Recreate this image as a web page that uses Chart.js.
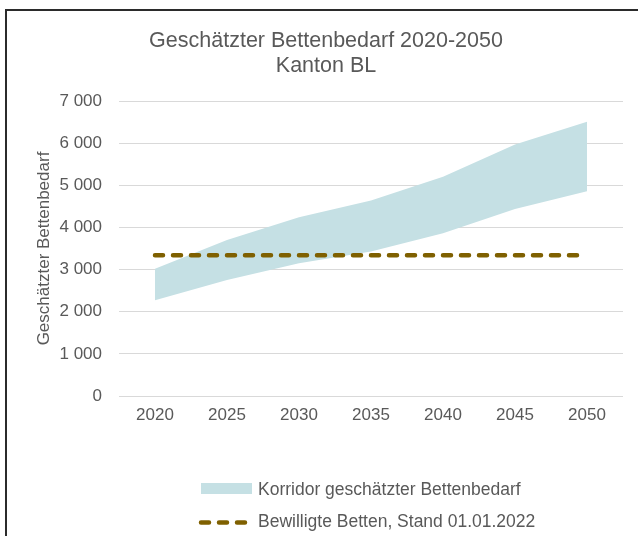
<!DOCTYPE html>
<html>
<head>
<meta charset="utf-8">
<script src="https://cdn.jsdelivr.net/npm/chart.js@4"></script>
<style>
  html, body { margin: 0; padding: 0; background: #fff; }
  #wrap { width: 638px; height: 536px; }
</style>
</head>
<body>
<div id="wrap"><canvas id="bedsChart" width="638" height="536"></canvas></div>
<script>
const years = ['2020', '2025', '2030', '2035', '2040', '2045', '2050'];
const corridorLow = [2270, 2750, 3150, 3430, 3860, 4440, 4860];
const corridorHigh = [3020, 3700, 4240, 4640, 5200, 5970, 6510];
const approvedBeds = [3340, 3340, 3340, 3340, 3340, 3340, 3340];

const titleLines = ['Geschätzter Bettenbedarf 2020-2050', 'Kanton BL'];
const yTitle = 'Geschätzter Bettenbedarf';
const legendLabels = ['Korridor geschätzter Bettenbedarf', 'Bewilligte Betten, Stand 01.01.2022'];

const textColor = '#595959';
const bandColor = '#c5e0e4';
const oliveColor = '#7f6000';
const fontFamily = '"Liberation Sans", Arial, sans-serif';

Chart.defaults.font.family = fontFamily;
Chart.defaults.color = textColor;

// frame, title and legend drawn on the canvas
const decorations = {
    id: 'decorations',
    beforeDraw(chart) {
        const ctx = chart.ctx;
        ctx.save();
        ctx.strokeStyle = '#2b2b2b';
        ctx.lineWidth = 2;
        ctx.beginPath();
        ctx.moveTo(6, 540);
        ctx.lineTo(6, 10);
        ctx.lineTo(640, 10);
        ctx.stroke();
        ctx.restore();
    },
    afterDraw(chart) {
        const ctx = chart.ctx;
        ctx.save();
        ctx.fillStyle = textColor;
        ctx.textAlign = 'center';
        ctx.textBaseline = 'alphabetic';
        ctx.font = '21.5px ' + fontFamily;
        ctx.fillText(titleLines[0], 326, 47);
        ctx.fillText(titleLines[1], 326, 72);

        // legend
        ctx.fillStyle = bandColor;
        ctx.fillRect(201, 483, 51, 11);
        ctx.strokeStyle = oliveColor;
        ctx.lineWidth = 4.5;
        ctx.lineCap = 'round';
        ctx.setLineDash([8, 10]);
        ctx.beginPath();
        ctx.moveTo(201, 522.5);
        ctx.lineTo(246, 522.5);
        ctx.stroke();
        ctx.setLineDash([]);

        ctx.fillStyle = textColor;
        ctx.textAlign = 'left';
        ctx.font = '17.5px ' + fontFamily;
        ctx.fillText(legendLabels[0], 258, 495);
        ctx.fillText(legendLabels[1], 258, 527);
        ctx.restore();
    }
};

new Chart(document.querySelector('#bedsChart'), {
    type: 'line',
    data: {
        labels: years,
        datasets: [
            {
                label: legendLabels[1],
                data: approvedBeds,
                borderColor: oliveColor,
                borderWidth: 4.5,
                borderDash: [8, 10],
                borderCapStyle: 'round',
                pointRadius: 0,
                fill: false,
            },
            {
                label: 'low',
                data: corridorLow,
                borderWidth: 0,
                borderColor: 'rgba(0,0,0,0)',
                pointRadius: 0,
                fill: false,
            },
            {
                label: legendLabels[0],
                data: corridorHigh,
                borderWidth: 0,
                borderColor: 'rgba(0,0,0,0)',
                backgroundColor: bandColor,
                pointRadius: 0,
                fill: '-1',
            },
        ],
    },
    options: {
        responsive: false,
        animation: false,
        layout: { padding: { left: 0, right: 15, top: 101, bottom: 110 } },
        plugins: {
            legend: { display: false },
            title: { display: false },
            tooltip: { enabled: false },
        },
        scales: {
            x: {
                offset: true,
                grid: { display: false, drawTicks: false },
                border: { display: false },
                ticks: { padding: 9, font: { size: 17 }, color: textColor },
                afterFit(scale) { scale.height = 30; },
            },
            y: {
                min: 0,
                max: 7000,
                grid: { color: '#d9d9d9', lineWidth: 1, drawTicks: false },
                border: { display: false },
                ticks: {
                    stepSize: 1000,
                    padding: 17,
                    font: { size: 17 },
                    color: textColor,
                    callback: (v) => String(v).replace(/\B(?=(\d{3})+(?!\d))/g, ' '),
                },
                title: {
                    display: true,
                    text: yTitle,
                    font: { size: 17 },
                    color: textColor,
                    padding: { top: 34, bottom: 0 },
                },
                afterFit(scale) { scale.width = 119; },
            },
        },
    },
    plugins: [decorations],
});
</script>
</body>
</html>
